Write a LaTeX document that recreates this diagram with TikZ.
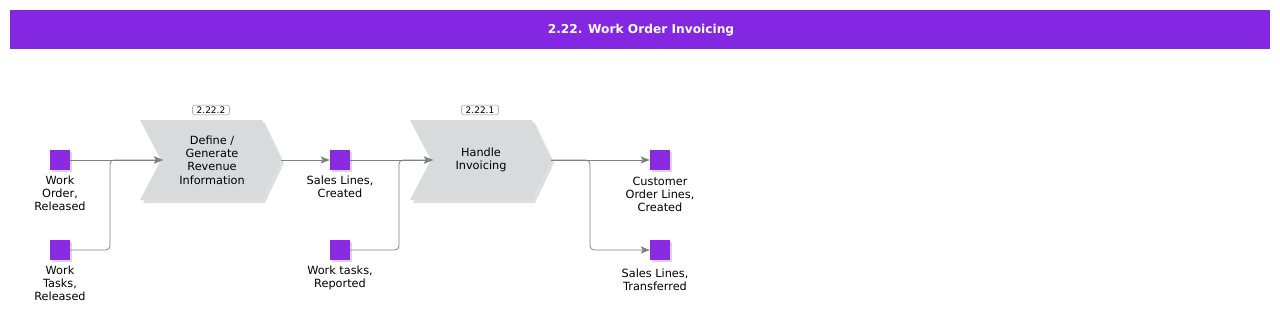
\documentclass[tikz,border=0pt]{standalone}
\usepackage{fontspec}
\setmainfont{DejaVu Sans}
\usetikzlibrary{arrows.meta, positioning, shadows}

\definecolor{hdrpurple}{RGB}{132,39,226}
\definecolor{evtpurple}{RGB}{138,43,226}
\definecolor{procgray}{RGB}{217,218,220}
\definecolor{flowgray}{RGB}{128,128,128}

\tikzset{
  event/.style={fill=evtpurple, minimum size=20pt, inner sep=0pt,
    drop shadow={shadow xshift=2pt, shadow yshift=-2pt, fill=black!30}},
  evlabel/.style={align=center, inner sep=0pt,
    font=\fontsize{11.3}{13}\selectfont},
  proc/.style={fill=procgray,
    drop shadow={shadow xshift=3pt, shadow yshift=-3pt, fill=black!25}},
  proctext/.style={align=center, inner sep=0pt,
    font=\fontsize{11.3}{13.3}\selectfont},
  idbox/.style={draw=black!45, fill=white, rounded corners=1.5pt,
    inner xsep=4pt, inner ysep=1.5pt, font=\fontsize{9}{10}\selectfont},
  flow/.style={draw=flowgray, line width=0.8pt,
    -{Stealth[length=9pt, width=7pt, inset=2pt]}}
}

\begin{document}
\begin{tikzpicture}[x=1pt, y=-1pt]
  \useasboundingbox (0,0) rectangle (1280,314);

  % 1. title bar
  \fill[hdrpurple] (10,10) rectangle (1270,49);
  \node[text=white, font=\fontsize{12.2}{14}\selectfont\bfseries] (title)
    at (641,30) {2.22. Work Order Invoicing};

  % 2. processes (chevrons)
  \path[proc] (140,120) -- (262,120) -- (281,160) -- (262,200)
    -- (140,200) -- (161,160) -- cycle;
  \node[proctext] (define) at (212,160) {Define /\\Generate\\Revenue\\Information};
  \node[idbox] (define-id) at (211,110) {2.22.2};
  \coordinate (define-in) at (163,160);
  \coordinate (define-out) at (281,160);

  \path[proc] (410,120) -- (532,120) -- (551,160) -- (532,200)
    -- (410,200) -- (431,160) -- cycle;
  \node[proctext] (handle) at (481,160) {Handle\\Invoicing};
  \node[idbox] (handle-id) at (480,110) {2.22.1};
  \coordinate (handle-in) at (433,160);
  \coordinate (handle-out) at (551,160);

  % 3. events
  \node[event] (wo)  at (60,160)  {};
  \node[event] (wt)  at (60,250)  {};
  \node[event] (slc) at (340,160) {};
  \node[event] (wtr) at (340,250) {};
  \node[event] (col) at (660,160) {};
  \node[event] (slt) at (660,250) {};

  \node[evlabel, below=6pt of wo]  (wo-l)  {Work\\Order,\\Released};
  \node[evlabel, below=6pt of wt]  (wt-l)  {Work\\Tasks,\\Released};
  \node[evlabel, below=6pt of slc] (slc-l) {Sales Lines,\\Created};
  \node[evlabel, below=6pt of wtr] (wtr-l) {Work tasks,\\Reported};
  \node[evlabel, below=7pt of col] (col-l) {Customer\\Order Lines,\\Created};
  \node[evlabel, below=9pt of slt, xshift=-5pt] (slt-l) {Sales Lines,\\Transferred};

  % 4. connectors
  \coordinate (define-join) at (110,160);
  \coordinate (handle-join) at (399,160);
  \coordinate (handle-split) at (590,160);

  \draw[flow] (wo.east) -- (define-in);
  \draw[flow, rounded corners=4pt] (wt.east) -| (define-join) -- (define-in);
  \draw[flow] (define-out) -- (slc.west);
  \draw[flow] (slc.east) -- (handle-in);
  \draw[flow, rounded corners=4pt] (wtr.east) -| (handle-join) -- (handle-in);
  \draw[flow] (handle-out) -- (col.west);
  \draw[flow, rounded corners=4pt] (handle-out) -- (handle-split) |- (slt.west);
\end{tikzpicture}
\end{document}
